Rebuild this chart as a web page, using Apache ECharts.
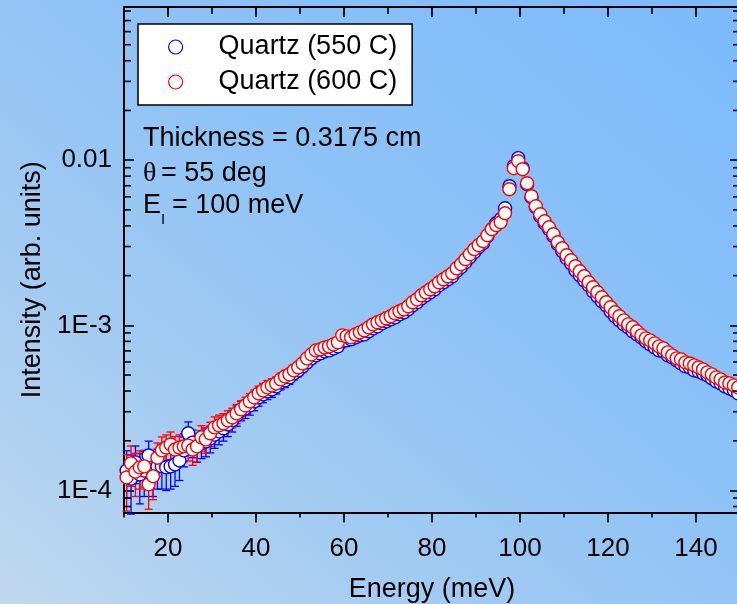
<!DOCTYPE html>
<html>
<head>
<meta charset="utf-8">
<script src="https://cdn.jsdelivr.net/npm/echarts/dist/echarts.min.js"></script>
<style>
html,body{margin:0;padding:0;}
body{width:737px;height:604px;overflow:hidden;background:linear-gradient(to top right,#c0d8ee 0%,#a2cbf2 30%,#8fc3f6 55%,#7cbafd 100%);}
#chart{width:737px;height:604px;}
</style>
</head>
<body>
<div id="chart"></div>
<script>
// ---------------- data ----------------
const energies = [
 10.6,11.6,12.6,13.6,14.6,15.6,16.6,17.6,18.6,19.6,20.6,21.6,22.6,23.6,24.6,25.6,26.6,27.6,28.6,29.6,
 30.6,31.6,32.6,33.6,34.6,35.6,36.6,37.6,38.6,39.6,40.6,41.6,42.6,43.6,44.6,45.6,46.6,47.6,48.6,49.6,
 50.6,51.6,52.6,53.6,54.6,55.6,56.6,57.6,58.6,59.6,60.6,61.6,62.6,63.6,64.6,65.6,66.6,67.6,68.6,69.6,
 70.6,71.6,72.6,73.6,74.6,75.6,76.6,77.6,78.6,79.6,80.6,81.6,82.6,83.6,84.6,85.6,86.6,87.6,88.6,89.6,
 90.6,91.6,92.6,93.6,94.6,95.6,96.6,97.6,98.6,99.6,100.6,101.6,102.6,103.6,104.6,105.6,106.6,107.6,108.6,109.6,
 110.6,111.6,112.6,113.6,114.6,115.6,116.6,117.6,118.6,119.6,120.6,121.6,122.6,123.6,124.6,125.6,126.6,127.6,128.6,129.6,
 130.6,131.6,132.6,133.6,134.6,135.6,136.6,137.6,138.6,139.6,140.6,141.6,142.6,143.6,144.6,145.6,146.6,147.6,148.6,149.6
];

const intensity550 = [
 1.32e-4,1.18e-4,1.48e-4,1.25e-4,1.32e-4,1.63e-4,1.32e-4,1.40e-4,1.40e-4,1.38e-4,
 1.40e-4,1.44e-4,1.52e-4,1.75e-4,2.22e-4,1.95e-4,1.85e-4,1.93e-4,1.98e-4,2.07e-4,
 2.18e-4,2.28e-4,2.38e-4,2.51e-4,2.66e-4,2.85e-4,3.05e-4,3.14e-4,3.27e-4,3.46e-4,
 3.66e-4,3.82e-4,3.98e-4,4.09e-4,4.27e-4,4.51e-4,4.64e-4,4.84e-4,5.12e-4,5.34e-4,
 5.64e-4,5.97e-4,6.31e-4,
 6.58e-4,6.77e-4,6.96e-4,7.05e-4,7.25e-4,7.46e-4,8.00e-4,8.11e-4,8.23e-4,8.46e-4,
 8.70e-4,8.82e-4,9.20e-4,9.59e-4,9.86e-4,1.028e-3,1.057e-3,1.087e-3,1.118e-3,1.166e-3,
 1.199e-3,1.250e-3,1.322e-3,1.379e-3,1.458e-3,1.520e-3,1.585e-3,1.653e-3,1.748e-3,1.822e-3,
 1.900e-3,1.981e-3,2.125e-3,2.247e-3,2.409e-3,2.583e-3,2.770e-3,2.970e-3,3.140e-3,3.463e-3,
 3.818e-3,4.151e-3,4.390e-3,
 5.118e-3,6.957e-3,9.197e-3,1.0283e-2,8.944e-3,7.154e-3,5.967e-3,5.190e-3,4.577e-3,4.151e-3,
 3.818e-3,3.463e-3,3.097e-3,2.809e-3,2.547e-3,2.375e-3,2.154e-3,2.009e-3,1.874e-3,1.748e-3,
 1.607e-3,1.499e-3,1.398e-3,1.322e-3,1.216e-3,1.134e-3,1.072e-3,1.014e-3,9.73e-4,9.20e-4,
 8.82e-4,8.46e-4,8.00e-4,7.67e-4,7.36e-4,7.05e-4,6.96e-4,6.58e-4,6.40e-4,6.14e-4,
 5.88e-4,5.64e-4,5.56e-4,5.34e-4,5.26e-4,5.12e-4,4.98e-4,4.77e-4,4.58e-4,4.45e-4,
 4.27e-4,4.15e-4,4.04e-4,3.87e-4
];

const intensity600 = [
 1.20e-4,1.46e-4,1.30e-4,1.38e-4,1.40e-4,1.09e-4,1.22e-4,1.58e-4,1.75e-4,1.82e-4,
 1.90e-4,1.77e-4,1.82e-4,1.85e-4,1.87e-4,1.77e-4,1.85e-4,2.10e-4,2.04e-4,2.22e-4,
 2.41e-4,2.48e-4,2.55e-4,2.66e-4,2.77e-4,2.93e-4,3.10e-4,3.27e-4,3.46e-4,3.66e-4,
 3.87e-4,4.04e-4,4.21e-4,4.33e-4,4.45e-4,4.71e-4,4.91e-4,5.05e-4,5.34e-4,5.57e-4,
 5.88e-4,6.31e-4,6.67e-4,
 7.05e-4,7.15e-4,7.36e-4,7.46e-4,7.67e-4,7.89e-4,8.70e-4,8.58e-4,8.46e-4,8.82e-4,
 9.07e-4,9.33e-4,9.72e-4,1.014e-3,1.043e-3,1.072e-3,1.103e-3,1.134e-3,1.182e-3,1.216e-3,
 1.250e-3,1.304e-3,1.379e-3,1.437e-3,1.520e-3,1.585e-3,1.653e-3,1.723e-3,1.822e-3,1.900e-3,
 1.981e-3,2.066e-3,2.215e-3,2.343e-3,2.512e-3,2.693e-3,2.888e-3,3.054e-3,3.229e-3,3.511e-3,
 3.818e-3,4.037e-3,4.210e-3,
 4.773e-3,6.672e-3,8.944e-3,9.861e-3,8.820e-3,7.254e-3,6.051e-3,5.263e-3,4.707e-3,4.269e-3,
 3.926e-3,3.561e-3,3.184e-3,2.929e-3,2.656e-3,2.477e-3,2.278e-3,2.124e-3,1.981e-3,1.822e-3,
 1.699e-3,1.585e-3,1.478e-3,1.379e-3,1.286e-3,1.199e-3,1.134e-3,1.072e-3,1.014e-3,9.73e-4,
 9.20e-4,8.70e-4,8.34e-4,8.11e-4,7.78e-4,7.46e-4,7.25e-4,6.86e-4,6.58e-4,6.31e-4,
 6.22e-4,5.97e-4,5.88e-4,5.72e-4,5.56e-4,5.41e-4,5.19e-4,5.05e-4,4.84e-4,4.71e-4,
 4.51e-4,4.45e-4,4.33e-4,4.21e-4
];

// error bars (only the low-energy points, where they are visible)
const error550 = [
 4.2e-5,4.6e-5,3.8e-5,4.2e-5,4.0e-5,3.6e-5,4.0e-5,3.8e-5,3.8e-5,3.8e-5,
 3.8e-5,3.8e-5,3.7e-5,3.6e-5,3.8e-5,3.7e-5,3.7e-5,3.7e-5,3.8e-5,3.8e-5,
 3.8e-5,3.9e-5,3.9e-5,3.9e-5,4.0e-5,4.0e-5,4.1e-5,4.1e-5,4.1e-5,4.2e-5,
 4.2e-5,4.2e-5,4.3e-5,4.3e-5,4.3e-5,4.4e-5,4.4e-5,4.5e-5,4.5e-5,4.6e-5,
 4.6e-5,4.6e-5,4.7e-5,4.7e-5,4.8e-5
];
const error600 = [
 4.5e-5,4.0e-5,3.8e-5,3.6e-5,3.5e-5,3.2e-5,3.4e-5,3.6e-5,3.6e-5,3.5e-5,
 3.6e-5,3.5e-5,3.5e-5,3.6e-5,3.6e-5,3.5e-5,3.6e-5,3.7e-5,3.6e-5,3.7e-5,
 3.8e-5,3.8e-5,3.7e-5,3.8e-5,3.8e-5,3.9e-5,3.9e-5,4.0e-5,4.0e-5,4.0e-5,
 4.1e-5,4.1e-5,4.2e-5,4.2e-5,4.2e-5,4.3e-5,4.3e-5,4.4e-5,4.4e-5,4.5e-5,
 4.5e-5,4.6e-5,4.6e-5,4.7e-5,4.7e-5
];

const xMajorTicks = [20, 40, 60, 80, 100, 120, 140];
const xTickLabels = ['20', '40', '60', '80', '100', '120', '140'];
const yTickValues = [1e-4, 1e-3, 1e-2];
const yTickLabels = ['1E-4', '1E-3', '0.01'];
const yMinorTicks = [
 8e-5, 9e-5,
 2e-4, 3e-4, 4e-4, 5e-4, 6e-4, 7e-4, 8e-4, 9e-4,
 2e-3, 3e-3, 4e-3, 5e-3, 6e-3, 7e-3, 8e-3, 9e-3,
 2e-2, 3e-2, 4e-2, 5e-2, 6e-2, 7e-2, 8e-2
];
const seriesNames = ['Quartz (550 C)', 'Quartz (600 C)'];
const annotation = ['Thickness = 0.3175 cm', '\u03b8', '= 55 deg', 'E', 'I', '= 100 meV'];

// ---------------- chart ----------------
const X_MIN = 10, X_MAX = 150;
const Y_MIN = 7.36e-5, Y_MAX = 0.0846;
const FONT = '"Liberation Sans", Arial, Helvetica, sans-serif';
const BLUE = '#0000ff', RED = '#ff0000';

const chart = echarts.init(document.getElementById('chart'), null, {renderer: 'canvas'});

function yLabel(v) {
  for (let i = 0; i < yTickValues.length; i++) {
    if (Math.abs(Math.log10(v) - Math.log10(yTickValues[i])) < 1e-6) return yTickLabels[i];
  }
  return '';
}
function xLabel(v) {
  const i = xMajorTicks.indexOf(v);
  return i >= 0 ? xTickLabels[i] : '';
}

function errRender(color) {
  return function (params, api) {
    const x = api.value(0), v = api.value(1), e = api.value(2);
    const pTop = api.coord([x, v + e]);
    const pBot = api.coord([x, v - e]);
    const cx = pTop[0];
    const style = {stroke: color, lineWidth: 1.3, fill: null};
    return {
      type: 'group',
      children: [
        {type: 'line', shape: {x1: cx, y1: pTop[1], x2: cx, y2: pBot[1]}, style: style},
        {type: 'line', shape: {x1: cx - 4, y1: pTop[1], x2: cx + 4, y2: pTop[1]}, style: style},
        {type: 'line', shape: {x1: cx - 4, y1: pBot[1], x2: cx + 4, y2: pBot[1]}, style: style}
      ]
    };
  };
}

function tickRender(dx, dy) {
  return function (params, api) {
    const p = api.coord([api.value(0), api.value(1)]);
    return {type: 'line', shape: {x1: p[0], y1: p[1], x2: p[0] + dx, y2: p[1] + dy},
            style: {stroke: '#000', lineWidth: 1.6}};
  };
}

const axisLine = {show: true, onZero: false, lineStyle: {color: '#000', width: 2}};

const option = {
  animation: false,
  backgroundColor: 'transparent',
  textStyle: {fontFamily: FONT},
  grid: {left: 124, top: 7, width: 616, height: 505.5, containLabel: false, outerBoundsMode: 'none'},
  legend: {
    data: [
      {name: seriesNames[0], itemStyle: {color: '#fff', borderColor: BLUE, borderWidth: 1.2}},
      {name: seriesNames[1], itemStyle: {color: '#fff', borderColor: RED, borderWidth: 1.2}}
    ],
    icon: 'circle',
    orient: 'vertical',
    left: 138, top: 24,
    padding: [9, 15, 9, 30],
    itemGap: 7,
    itemWidth: 14, itemHeight: 14,
    backgroundColor: '#fff',
    borderColor: '#000', borderWidth: 1.5, borderRadius: 0,
    selectedMode: false,
    formatter: name => '{g|}' + name,
    textStyle: {fontSize: 27, color: '#000', fontFamily: FONT, lineHeight: 28,
                rich: {g: {width: 31}}}
  },
  xAxis: [
    {
      type: 'value', position: 'bottom', min: X_MIN, max: X_MAX, interval: 10,
      axisLine: axisLine,
      axisTick: {show: true, inside: false, length: 5, lineStyle: {color: '#000', width: 1.6}},
      axisLabel: {formatter: xLabel, fontSize: 26, color: '#000', margin: 23, fontFamily: FONT},
      splitLine: {show: false},
      name: 'Energy (meV)', nameLocation: 'middle', nameGap: 64,
      nameTextStyle: {fontSize: 27, color: '#000', fontFamily: FONT}
    },
    {
      type: 'value', position: 'top', min: X_MIN, max: X_MAX, interval: 10,
      axisLine: axisLine,
      axisTick: {show: true, inside: true, length: 7, lineStyle: {color: '#000', width: 1.6}},
      axisLabel: {show: false},
      splitLine: {show: false}
    }
  ],
  yAxis: [
    {
      type: 'log', logBase: 10, position: 'left', min: Y_MIN, max: Y_MAX,
      axisLine: axisLine,
      axisTick: {show: true, inside: true, length: 10, lineStyle: {color: '#000', width: 1.6}},
      axisLabel: {formatter: yLabel, fontSize: 26, color: '#000', margin: 12, fontFamily: FONT},
      splitLine: {show: false},
      minorTick: {show: false},
      name: 'Intensity (arb. units)', nameLocation: 'middle', nameGap: 78, nameRotate: 90,
      nameTextStyle: {fontSize: 27, color: '#000', fontFamily: FONT, padding: [0, 40, 0, 0]}
    },
    {
      type: 'log', logBase: 10, position: 'right', min: Y_MIN, max: Y_MAX,
      axisLine: {show: false},
      axisTick: {show: true, inside: true, length: 10, lineStyle: {color: '#000', width: 1.6}},
      axisLabel: {show: false},
      splitLine: {show: false}
    }
  ],
  series: [
    {
      name: 'err550', type: 'custom', xAxisIndex: 0, yAxisIndex: 0,
      renderItem: errRender(BLUE),
      data: error550.map((e, i) => [energies[i], intensity550[i], e]),
      encode: {x: 0, y: 1}, silent: true, z: 2
    },
    {
      name: seriesNames[0], type: 'scatter', xAxisIndex: 0, yAxisIndex: 0,
      symbol: 'circle', symbolSize: 13,
      itemStyle: {color: '#fff', borderColor: BLUE, borderWidth: 1.4, opacity: 1},
      emphasis: {disabled: true},
      data: energies.map((e, i) => [e, intensity550[i]]), z: 2
    },
    {
      name: 'err600', type: 'custom', xAxisIndex: 0, yAxisIndex: 0,
      renderItem: errRender(RED),
      data: error600.map((e, i) => [energies[i], intensity600[i], e]),
      encode: {x: 0, y: 1}, silent: true, z: 2
    },
    {
      name: seriesNames[1], type: 'scatter', xAxisIndex: 0, yAxisIndex: 0,
      symbol: 'circle', symbolSize: 13,
      itemStyle: {color: '#fff', borderColor: RED, borderWidth: 1.4, opacity: 1},
      emphasis: {disabled: true},
      data: energies.map((e, i) => [e, intensity600[i]]), z: 2
    },
    // minor ticks on the log axes (left and right, pointing inward)
    {
      type: 'custom', xAxisIndex: 0, yAxisIndex: 0, silent: true, z: 10,
      renderItem: tickRender(7, 0),
      data: yMinorTicks.map(v => [X_MIN, v]), encode: {x: 0, y: 1}
    },
    {
      type: 'custom', xAxisIndex: 0, yAxisIndex: 0, silent: true, z: 10,
      renderItem: tickRender(-7, 0),
      data: yMinorTicks.map(v => [X_MAX, v]), encode: {x: 0, y: 1}
    },
    // longer major ticks on the energy axes
    {
      type: 'custom', xAxisIndex: 0, yAxisIndex: 0, silent: true, z: 10,
      renderItem: tickRender(0, 10),
      data: xMajorTicks.map(v => [v, Y_MIN]), encode: {x: 0, y: 1}
    },
    {
      type: 'custom', xAxisIndex: 0, yAxisIndex: 0, silent: true, z: 10,
      renderItem: tickRender(0, 10),
      data: xMajorTicks.map(v => [v, Y_MAX]), encode: {x: 0, y: 1}
    }
  ],
  graphic: [
    {type: 'text', x: 143, y: 139, silent: true,
     style: {text: annotation[0], font: '27px ' + FONT, fill: '#000', textVerticalAlign: 'middle'}},
    {type: 'text', x: 143, y: 174, silent: true,
     style: {text: annotation[1], font: '28px "Liberation Serif", "Times New Roman", serif', fill: '#000', textVerticalAlign: 'middle'}},
    {type: 'text', x: 161, y: 174, silent: true,
     style: {text: annotation[2], font: '27px ' + FONT, fill: '#000', textVerticalAlign: 'middle'}},
    {type: 'text', x: 143, y: 206, silent: true,
     style: {text: annotation[3], font: '27px ' + FONT, fill: '#000', textVerticalAlign: 'middle'}},
    {type: 'text', x: 161, y: 220, silent: true,
     style: {text: annotation[4], font: '15px ' + FONT, fill: '#000', textVerticalAlign: 'middle'}},
    {type: 'text', x: 172, y: 206, silent: true,
     style: {text: annotation[5], font: '27px ' + FONT, fill: '#000', textVerticalAlign: 'middle'}}
  ]
};

chart.setOption(option);
</script>
</body>
</html>
